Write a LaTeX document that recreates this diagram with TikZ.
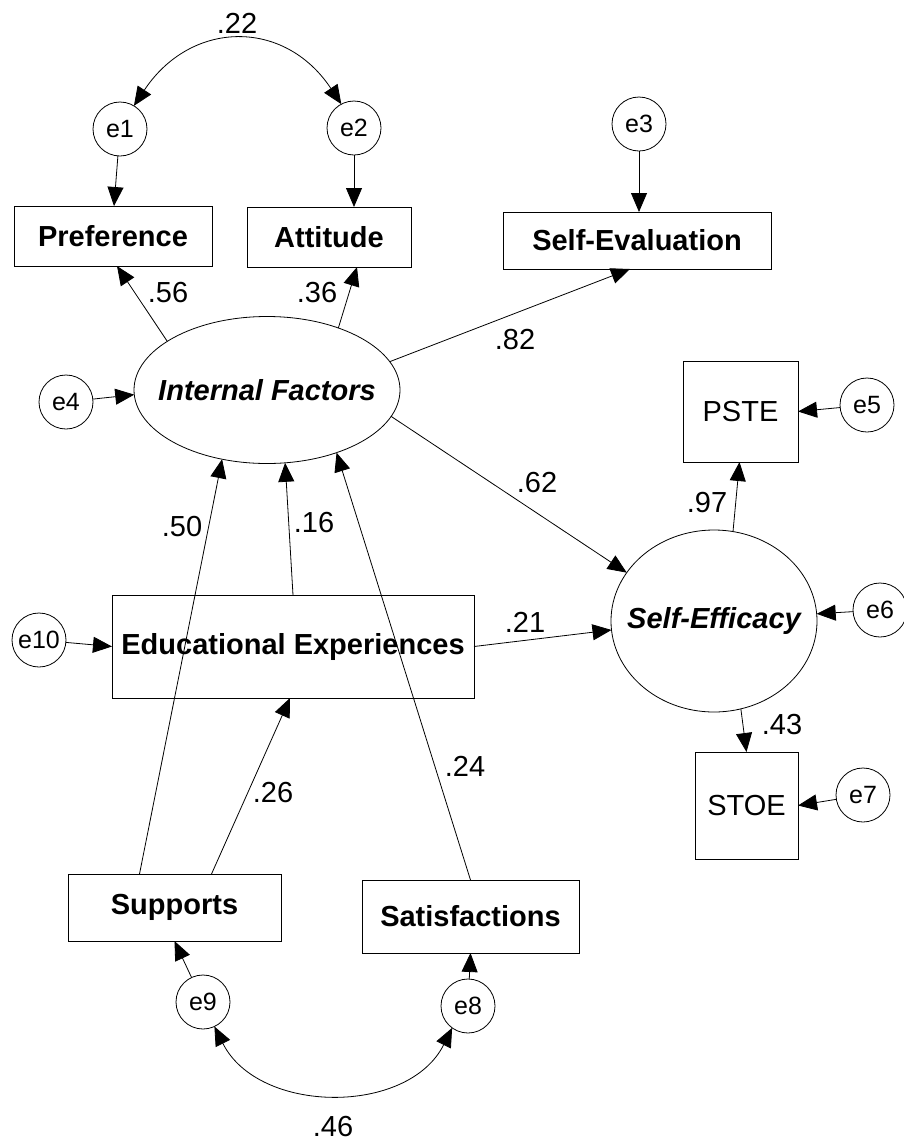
\documentclass[tikz,border=0pt]{standalone}
\usepackage{fontspec}
\setmainfont{Liberation Sans}
\usetikzlibrary{arrows.meta,shapes.geometric}

\begin{document}
\begin{tikzpicture}[x=1pt,y=-1pt,
  every node/.style={inner sep=0pt, outer sep=0pt},
  conn/.style={line width=0.8pt, -{Triangle[length=19pt,width=16pt]}},
  cov/.style={line width=0.8pt, {Triangle[length=19pt,width=16pt]}-{Triangle[length=19pt,width=16pt]}},
  errc/.style={draw, line width=0.8pt, circle, minimum size=54pt, font=\fontsize{25}{30}\selectfont},
  obsbox/.style={draw, line width=0.8pt, rectangle, font=\fontsize{29}{34}\selectfont\bfseries},
  plainbox/.style={draw, line width=0.8pt, rectangle, font=\fontsize{29}{34}\selectfont},
  latent/.style={draw, line width=0.8pt, ellipse, font=\fontsize{29}{34}\selectfont\bfseries\itshape},
  coef/.style={font=\fontsize{29}{34}\selectfont}
]
\useasboundingbox (0,0) rectangle (904,1141);

% error terms
\node[errc] (e1) at (120,129) {e1};
\node[errc] (e2) at (354,128) {e2};
\node[errc] (e3) at (639,124) {e3};
\node[errc] (e4) at (66,402) {e4};
\node[errc] (e5) at (867,405) {e5};
\node[errc] (e6) at (880,610) {e6};
\node[errc] (e7) at (863,795) {e7};
\node[errc] (e8) at (468,1006) {e8};
\node[errc] (e9) at (203,1002) {e9};
\node[errc] (e10) at (39,640) {e10};

% observed variables
\node[obsbox, minimum width=198pt, minimum height=60pt] (pref) at (113,236) {Preference};
\node[obsbox, minimum width=164pt, minimum height=60pt] (att) at (329,237) {Attitude};
\node[obsbox, minimum width=268pt, minimum height=57pt] (seval) at (637,240.5) {Self-Evaluation};
\node[obsbox, minimum width=362pt, minimum height=103pt] (edu) at (293,646.5) {Educational Experiences};
\node[obsbox, minimum width=213pt, minimum height=67pt] (sup) at (174.5,907.5) {Supports};
\node[obsbox, minimum width=217pt, minimum height=73pt] (sat) at (470.5,916.5) {Satisfactions};
\node[plainbox, minimum width=115pt, minimum height=101pt] (pste) at (740.5,411.5) {PSTE};
\node[plainbox, minimum width=103pt, minimum height=107pt] (stoe) at (746.5,805.5) {STOE};

% latent variables (text boxed to zero width so the ellipse keeps its set size)
\node[latent, minimum width=266pt, minimum height=147pt] (intf) at (267,390) {\makebox[0pt]{Internal Factors}};
\node[latent, minimum width=206pt, minimum height=182pt] (seff) at (714,621) {\makebox[0pt]{Self-Efficacy}};

% error paths
\draw[conn] (e1) -- ([xshift=1pt]pref.north);
\draw[conn] (e2) -- (e2 |- att.north);
\draw[conn] (e3) -- (e3 |- seval.north);
\draw[conn] (e4) -- (intf.182);
\draw[conn] (e5) -- (pste.east);
\draw[conn] (e6) -- (seff.4);
\draw[conn] (e7) -- (stoe.east);
\draw[conn] (e10) -- (edu.west);
\draw[conn] (e9) -- (sup.south);
\draw[conn] (e8) -- (sat.south);

% loadings of Internal Factors
\draw[conn] (intf.154.8) -- ([xshift=4pt]pref.south);
\draw[conn] (intf.41.6) -- ([xshift=28pt]att.south);
\draw[conn] (intf.13.3) -- ([xshift=-7pt]seval.south);

% loadings of Self-Efficacy
\draw[conn] (seff.78.2) -- ([xshift=-1pt]pste.south);
\draw[conn] (seff.-73.7) -- (stoe.north);

% structural paths
\draw[conn] (intf.-12.5) -- (seff.151.7);
\draw[conn] (edu.north) -- (intf.-76.9);
\draw[conn] (edu.east) -- (seff.185);
\draw[conn] ([xshift=-35pt]sup.north) -- (intf.-123.9);
\draw[conn] ([xshift=37pt]sup.north) -- ([xshift=-3pt]edu.south);
\draw[conn] (sat.north) -- (intf.-42.8);

% covariances
\draw[cov] (e1.59) .. controls +(57,-86) and +(-57,-86) .. (e2.118);
\draw[cov] (e9.-65.7) .. controls +(44,88) and +(-44,88) .. (e8.234);

% coefficients
\node[coef] (c22) at (237,23) {.22};
\node[coef] (c56) at (168,293) {.56};
\node[coef] (c36) at (317,293) {.36};
\node[coef] (c82) at (515,340) {.82};
\node[coef] (c62) at (537,483) {.62};
\node[coef] (c97) at (707,503) {.97};
\node[coef] (c21) at (525,622) {.21};
\node[coef] (c50) at (182,527) {.50};
\node[coef] (c16) at (314,523) {.16};
\node[coef] (c26) at (273,793) {.26};
\node[coef] (c24) at (465,766) {.24};
\node[coef] (c43) at (782,725) {.43};
\node[coef] (c46) at (333,1127) {.46};
\end{tikzpicture}
\end{document}
